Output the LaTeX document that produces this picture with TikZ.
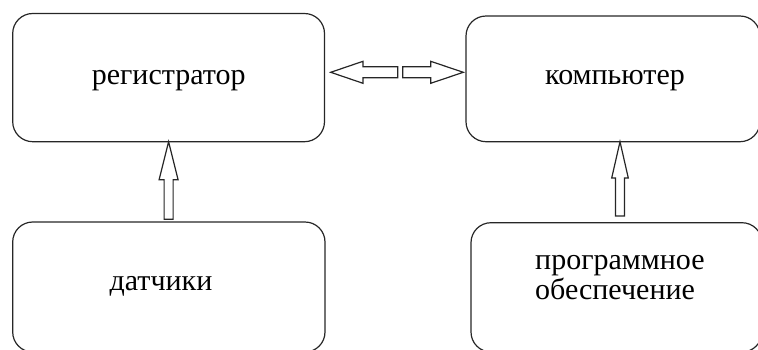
\documentclass[tikz,border=0pt]{standalone}
\usepackage{fontspec}
\setmainfont{Liberation Serif}
\usetikzlibrary{calc}
\tikzset{
  box/.style={draw=black!85, line width=1.2pt, rounded corners=20pt, inner sep=0pt, outer sep=0pt},
  txt/.style={inner sep=0pt, font=\fontsize{30}{30}\selectfont, text=black},
  barrow/.style={draw=black!85, line width=1.2pt, fill=white, line join=miter}
}
\begin{document}
\begin{tikzpicture}[x=1pt,y=-1pt]
\useasboundingbox (0,0) rectangle (758,349);
% boxes
\node[box, minimum width=311.8pt, minimum height=128.2pt] (reg) at (168.6,77.6) {};
\node[box, minimum width=294pt, minimum height=125.7pt] (comp) at (613,78.85) {};
\node[box, minimum width=312.3pt, minimum height=130pt] (sens) at (168.85,287) {};
\node[box, minimum width=291pt, minimum height=129.3pt] (soft) at (616.5,287.35) {};
% texts
\node[txt, anchor=base] (regt) at (168.7,84) {регистратор};
\node[txt, anchor=base] (compt) at (615,84) {компьютер};
\node[txt, anchor=base] (senst) at (161,290.7) {датчики};
\node[txt, anchor=base west] (soft1) at (535,269) {программное};
\node[txt, anchor=base west] (soft2) at (535,299) {обеспечение};
% double arrow between top boxes
\coordinate (L) at ($(reg.east)+(6.2,-5.3)$);
\coordinate (R0) at ($(comp.west)+(-2.7,0)$);
\coordinate (R) at (R0 |- L);
\draw[barrow] (L) -- ($(L)+(32.3,-11)$) -- ($(L)+(32.3,-5.5)$) -- ($(L)+(67,-5.5)$)
  -- ($(L)+(67,5.5)$) -- ($(L)+(32.3,5.5)$) -- ($(L)+(32.3,11)$) -- cycle;
\draw[barrow] (R) -- ($(R)+(-32.6,-11)$) -- ($(R)+(-32.6,-5.5)$) -- ($(R)+(-60.6,-5.5)$)
  -- ($(R)+(-60.6,5.5)$) -- ($(R)+(-32.6,5.5)$) -- ($(R)+(-32.6,11)$) -- cycle;
% left vertical arrow: датчики -> регистратор
\coordinate (T1) at (reg.south);
\coordinate (B1) at ($(T1 |- sens.north)+(0,-2.7)$);
\draw[barrow] (T1) -- ($(T1)+(9.5,38)$) -- ($(T1)+(4.5,38)$) -- ($(B1)+(4.5,0)$)
  -- ($(B1)+(-4.5,0)$) -- ($(T1)+(-4.5,38)$) -- ($(T1)+(-9.5,38)$) -- cycle;
% right vertical arrow: программное обеспечение -> компьютер
\coordinate (T2) at ($(comp.south)+(7,0)$);
\coordinate (B2) at ($(T2 |- soft.north)+(0,-6.7)$);
\draw[barrow] (T2) -- ($(T2)+(8.3,36.3)$) -- ($(T2)+(4.5,36.3)$) -- ($(B2)+(4.5,0)$)
  -- ($(B2)+(-4.5,0)$) -- ($(T2)+(-4.5,36.3)$) -- ($(T2)+(-8.3,36.3)$) -- cycle;
\end{tikzpicture}
\end{document}
